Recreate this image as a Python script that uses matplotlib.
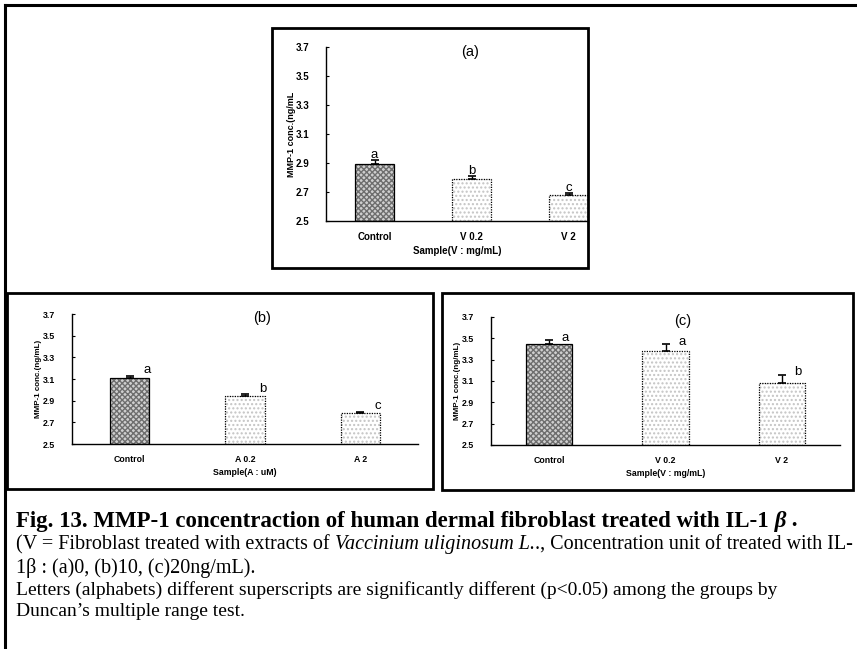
import matplotlib
matplotlib.use("Agg")
import matplotlib.pyplot as plt
import numpy as np
from matplotlib.patches import Rectangle
from matplotlib.lines import Line2D

W, H = 857, 649

# data
cats_a = ["Control", "V 0.2", "V 2"]
vals_a = [2.89, 2.79, 2.68]
err_a = [0.03, 0.02, 0.01]
lets_a = ["a", "b", "c"]

cats_b = ["Control", "A 0.2", "A 2"]
vals_b = [3.11, 2.94, 2.79]
err_b = [0.02, 0.02, 0.01]
lets_b = ["a", "b", "c"]

cats_c = ["Control", "V 0.2", "V 2"]
vals_c = [3.45, 3.38, 3.08]
err_c = [0.03, 0.07, 0.08]
lets_c = ["a", "a", "b"]

yticks = [2.5, 2.7, 2.9, 3.1, 3.3, 3.5, 3.7]
ylab_a = "MMP-1 conc.(ng/mL"
ylab_bc = "MMP-1 conc.(ng/mL)"

plt.rcParams['font.family'] = ['Liberation Sans', 'DejaVu Sans']
fig = plt.figure(figsize=(W / 100, H / 100), dpi=100)


def px_axes(left, top, right, bottom):
    return fig.add_axes([left / W, 1 - bottom / H, (right - left) / W, (bottom - top) / H])


def px_box(left, top, right, bottom, lw=2.0):
    fig.add_artist(Rectangle((left / W, 1 - bottom / H), (right - left) / W, (bottom - top) / H,
                             transform=fig.transFigure, fill=False, edgecolor='black', lw=lw))


def panel(ax, cats, vals, errs, lets, width, title, xlab, ylab, xmax, let_dx, let_dy, fs, ylpad):
    x = np.arange(len(cats))
    faces = ['#cfcfcf'] + ['white'] * (len(cats) - 1)
    hatches = ['xxxxxx'] + ['....'] * (len(cats) - 1)
    hcols = ['#6e6e6e'] + ['#c4c4c4'] * (len(cats) - 1)
    for i in range(len(cats)):
        ax.bar(x[i], vals[i] - 2.5, width, bottom=2.5, color=faces[i], hatch=hatches[i],
               edgecolor=hcols[i], lw=0, zorder=2)
        ax.bar(x[i], vals[i] - 2.5, width, bottom=2.5, fill=False, edgecolor='black',
               lw=0.9, ls='-' if i == 0 else (0, (1, 1)), zorder=3)
    ax.errorbar(x, vals, yerr=[np.zeros(len(errs)), errs], fmt='none', ecolor='black',
                elinewidth=1, capsize=3, capthick=1.2, zorder=4)
    for i in range(len(cats)):
        ax.text(x[i] + let_dx, vals[i] + errs[i] + let_dy, lets[i], ha='center', va='center',
                fontsize=9.5)
    ax.set_ylim(2.5, 3.7)
    ax.set_xlim(-0.5, xmax)
    ax.set_yticks(yticks)
    ax.set_yticklabels([f"{t:.1f}" for t in yticks], fontsize=fs, fontweight='bold')
    ax.set_xticks(x)
    ax.set_xticklabels(cats, fontsize=fs, fontweight='bold')
    ax.tick_params(axis='x', length=0, pad=8)
    ax.tick_params(axis='y', direction='in', length=2, width=0.8, pad=12)
    ax.set_xlabel(xlab, fontsize=fs, fontweight='bold', labelpad=3)
    ax.set_ylabel(ylab, fontsize=fs - 0.5, fontweight='bold', labelpad=ylpad)
    for s in ['top', 'right']:
        ax.spines[s].set_visible(False)
    for s in ['left', 'bottom']:
        ax.spines[s].set_linewidth(1.0)
    ax.text(0.55, 0.97, title, transform=ax.transAxes, ha='center', va='center', fontsize=10.5)
    ax.patch.set_alpha(0)


ax_a = px_axes(326, 47, 588, 221)
panel(ax_a, cats_a, vals_a, err_a, lets_a, 0.41, "(a)", "Sample(V : mg/mL)", ylab_a,
      (588 - 326) / 97 - 0.5, 0.0, 0.035, 7.0, 0)
ax_b = px_axes(72, 314, 418, 444)
panel(ax_b, cats_b, vals_b, err_b, lets_b, 0.34, "(b)", "Sample(A : uM)", ylab_bc,
      2.5, 0.15, 0.05, 6.3, 1)
ax_c = px_axes(491, 317, 840, 445)
panel(ax_c, cats_c, vals_c, err_c, lets_c, 0.40, "(c)", "Sample(V : mg/mL)", ylab_bc,
      2.5, 0.14, 0.02, 6.3, 1)

# frames
px_box(272, 28, 588, 268)
px_box(7, 293, 433, 489)
px_box(442, 293, 853, 490)
fig.add_artist(Line2D([5 / W, 1.0], [1 - 5 / H, 1 - 5 / H], transform=fig.transFigure,
                      color='black', lw=2.2))
fig.add_artist(Line2D([5 / W, 5 / W], [1 - 5 / H, 0], transform=fig.transFigure,
                      color='black', lw=2.2))

# caption
serif = ['Liberation Serif', 'DejaVu Serif']
renderer = fig.canvas.get_renderer()


def caption_line(x_px, y_px, pieces, size=14.5):
    x = x_px / W
    for txt, weight, style in pieces:
        t = fig.text(x, 1 - y_px / H, txt, family=serif, fontsize=size, fontweight=weight,
                     fontstyle=style, ha='left', va='center')
        bb = t.get_window_extent(renderer=renderer)
        x += bb.width / W


cap_x = 16
caption_line(cap_x, 521, [("Fig. 13. MMP-1 concentraction of human dermal fibroblast treated with IL-1", 'bold', 'normal'),
                          (" β", 'bold', 'italic'), (" .", 'bold', 'normal')], size=16.5)
caption_line(cap_x, 545, [("(V = Fibroblast treated with extracts of ", 'normal', 'normal'),
                          ("Vaccinium uliginosum L.", 'normal', 'italic'),
                          ("., Concentration unit of treated with IL-", 'normal', 'normal')])
caption_line(cap_x, 568, [("1β : (a)0, (b)10, (c)20ng/mL).", 'normal', 'normal')])
caption_line(cap_x, 590, [("Letters (alphabets) different superscripts are significantly different (p<0.05) among the groups by", 'normal', 'normal')], size=14.0)
caption_line(cap_x, 612, [("Duncan\u2019s multiple range test.", 'normal', 'normal')], size=14.0)

fig.savefig("out.png", dpi=100)
